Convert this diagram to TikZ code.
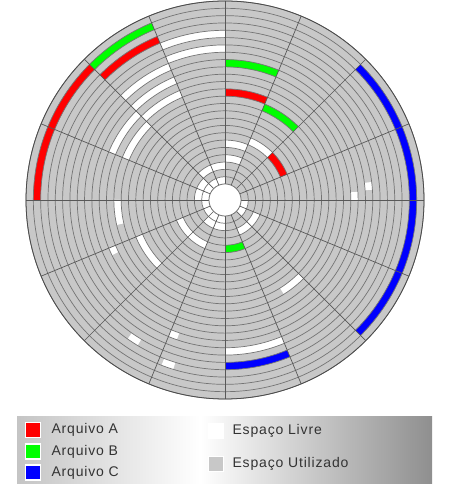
\documentclass[tikz,border=0pt]{standalone}
\usepackage{fontspec}
\newfontfamily\legfont[LetterSpace=6]{Liberation Sans}
\usetikzlibrary{positioning}

\definecolor{usedgray}{HTML}{C8C8C8}
\definecolor{trackline}{HTML}{747474}
\definecolor{spokeline}{HTML}{585858}
\definecolor{fileA}{HTML}{FF0000}
\definecolor{fileB}{HTML}{00FF00}
\definecolor{fileC}{HTML}{0000FF}

% one block of a track: track no., start angle, end angle, colour
\newcommand{\trackcell}[4]{%
  \pgfmathsetmacro{\ro}{199-#1*7.32}%
  \pgfmathsetmacro{\ri}{\ro-7.32}%
  \fill[#4] (#2:\ro pt) arc[start angle=#2,end angle=#3,radius=\ro pt]
    -- (#3:\ri pt) arc[start angle=#3,end angle=#2,radius=\ri pt] -- cycle;
}

\begin{document}
\begin{tikzpicture}[
    x=1pt,y=1pt,
    legsq/.style={draw=white,line width=1.6pt,minimum size=15pt,inner sep=0pt},
    legtxt/.style={font=\legfont\fontsize{14}{16}\selectfont,text=black!80,inner sep=0pt,anchor=west}
]
    \useasboundingbox (0,0) rectangle (450,500);

    % disk
    \begin{scope}[shift={(225,300)}]
        \fill[usedgray] (0,0) circle[radius=199pt];
        \foreach \k/\a/\b/\c in {
            1/135/180/fileA, 3/112.5/135/fileA, 12/67.5/90/fileA, 18/22.5/45/fileA,
            1/112.5/135/fileB, 8/67.5/90/fileB, 13/45/67.5/fileB, 20/270/292.5/fileB,
            1/-45/45/fileC, 4/270/292.5/fileC,
            4/90/112.5/white, 6/90/112.5/white, 7/112.5/135/white, 9/112.5/135/white,
            11/112.5/135/white, 10/135/157.5/white, 12/135/157.5/white, 12/180/193/white,
            6/270/292.5/white, 14/202.5/225/white, 20/202.5/247.5/white,
            12/302/315/white, 18/45/67.5/white, 19/67.5/90/white, 21/67.5/90/white,
            10/202.5/206/white, 4/235/239/white, 7/247.5/251/white, 3/249/253/white,
            9/0/3.5/white, 7/4/7/white,
            22/90/135/white, 23/135/180/white, 24/90/270/white, 23/225/270/white,
            22/292.5/337.5/white, 24/315/360/white}
            {\trackcell{\k}{\a}{\b}{\c}}
        \foreach \k in {0,...,25}{
            \pgfmathsetmacro{\r}{199-\k*7.32}
            \draw[trackline,line width=0.7pt] (0,0) circle[radius=\r pt];
        }
        \foreach \a in {0,22.5,...,337.5}
            \draw[spokeline,line width=0.7pt] (\a:16pt) -- (\a:199pt);
        \fill[white] (0,0) circle[radius=16pt];
        \draw[trackline,line width=0.7pt] (0,0) circle[radius=16pt];
        \draw[black!70,line width=0.8pt] (0,0) circle[radius=199pt];
    \end{scope}

    % legend
    \shade[left color=black!23,right color=white] (17,16.7) rectangle (200,83.3);
    \shade[left color=white,right color=black!44] (200,16.7) rectangle (432,83.3);

    \node[legsq,fill=fileA] (sqA) at (33,70) {};
    \node[legsq,fill=fileB] (sqB) at (33,48.5) {};
    \node[legsq,fill=fileC] (sqC) at (33,27.5) {};
    \node[legtxt,right=10pt of sqA.east] (txtA) {Arquivo A};
    \node[legtxt,right=10pt of sqB.east] (txtB) {Arquivo B};
    \node[legtxt,right=10pt of sqC.east] (txtC) {Arquivo C};

    \node[legsq,fill=white] (sqFree) at (216,69) {};
    \node[legsq,fill=usedgray] (sqUsed) at (216,36) {};
    \node[legtxt,right=8pt of sqFree.east] (txtFree) {Espaço Livre};
    \node[legtxt,right=8pt of sqUsed.east] (txtUsed) {Espaço Utilizado};
\end{tikzpicture}
\end{document}
